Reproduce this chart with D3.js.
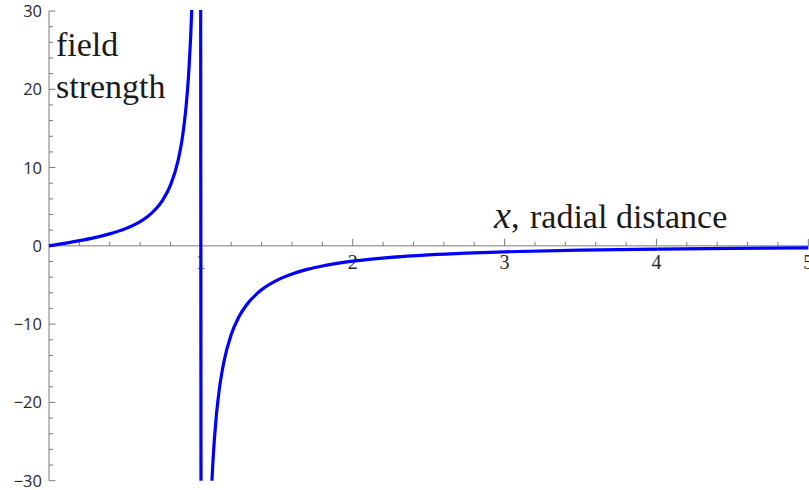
<!DOCTYPE html>
<html>
<head>
<meta charset="utf-8">
<script src="https://cdn.jsdelivr.net/npm/d3@7"></script>
<style>
  html, body { margin: 0; padding: 0; background: #fff; }
  svg { display: block; }
</style>
</head>
<body>
<svg id="chart" width="809" height="490"></svg>
<script>
// Radial distance samples and the field strength read at each one
const radialDistance = [0, 0.1, 0.2, 0.3, 0.4, 0.5, 0.6, 0.65, 0.7, 0.75, 0.8, 0.85, 0.88, 0.9, 0.92, 0.94, 0.96, 0.98, 0.99,
  1.01, 1.02, 1.03, 1.04, 1.05, 1.06, 1.07, 1.08, 1.1, 1.12, 1.15, 1.2, 1.25, 1.3, 1.4, 1.5, 1.6, 1.7, 1.8,
  2, 2.25, 2.5, 2.75, 3, 3.5, 4, 4.5, 5];
const fieldStrength = [0, 0.32, 0.66, 1.05, 1.53, 2.17, 3.10, 3.76, 4.64, 5.88, 7.75, 10.9, 14.07, 17.27, 22.09, 30.2, 46.5, 95.9, 195,
  -205, -103.9, -70.1, -53.1, -42.9, -36.0, -31.1, -27.36, -22.1, -18.56, -14.97, -11.32, -9.08, -7.55, -5.61, -4.41, -3.60, -3.01, -2.57,
  -1.96, -1.47, -1.15, -0.925, -0.763, -0.547, -0.412, -0.322, -0.259];

// Axis ticks
const xMajorTicks = [1, 2, 3, 4, 5];
const xMinorTicks = [0.2, 0.4, 0.6, 0.8, 1.2, 1.4, 1.6, 1.8, 2.2, 2.4, 2.6, 2.8, 3.2, 3.4, 3.6, 3.8, 4.2, 4.4, 4.6, 4.8];
const yMajorTicks = [-30, -20, -10, 0, 10, 20, 30];
const yMinorTicks = [-28, -26, -24, -22, -18, -16, -14, -12, -8, -6, -4, -2, 2, 4, 6, 8, 12, 14, 16, 18, 22, 24, 26, 28];

// Axis captions
const yCaptionLines = ["field", "strength"];
const xCaptionVar = "x";
const xCaptionText = "radial distance";

const svg = d3.select("#chart");
const W = 809, H = 490;

const x = d3.scaleLinear().domain([0, 5]).range([49, 808.3]);
const y = d3.scaleLinear().domain([-30, 30]).range([480.7, 11]);

const axisColor = "#7a7a7a";
const labelColor = "#2a2a2a";
const serif = "'Liberation Serif', 'Times New Roman', serif";
const sans = "'Open Sans', 'Noto Sans', sans-serif";

svg.append("rect").attr("width", W).attr("height", H).attr("fill", "#fff");

// Horizontal axis through y = 0, ticks pointing up
const xAxisG = svg.append("g").attr("transform", `translate(0,${y(0)})`);
xAxisG.append("line")
  .attr("x1", x(0)).attr("x2", W)
  .attr("stroke", axisColor).attr("stroke-width", 1);
xAxisG.selectAll("line.minor").data(xMinorTicks).join("line")
  .attr("class", "minor")
  .attr("x1", d => x(d)).attr("x2", d => x(d))
  .attr("y1", 0).attr("y2", -4)
  .attr("stroke", axisColor);
xAxisG.selectAll("line.major").data(xMajorTicks).join("line")
  .attr("class", "major")
  .attr("x1", d => x(d)).attr("x2", d => x(d))
  .attr("y1", 0).attr("y2", -7)
  .attr("stroke", axisColor);
xAxisG.selectAll("text").data(xMajorTicks).join("text")
  .attr("x", d => x(d)).attr("y", 23.5)
  .attr("text-anchor", "middle")
  .attr("font-family", serif).attr("font-size", 20)
  .attr("fill", labelColor)
  .text(d => d);

// Vertical axis at x = 0, ticks pointing right
const yAxisG = svg.append("g").attr("transform", `translate(${x(0)},0)`);
yAxisG.append("line")
  .attr("y1", y(30)).attr("y2", y(-30))
  .attr("stroke", axisColor).attr("stroke-width", 1);
yAxisG.selectAll("line.minor").data(yMinorTicks).join("line")
  .attr("class", "minor")
  .attr("y1", d => y(d)).attr("y2", d => y(d))
  .attr("x1", 0).attr("x2", 4)
  .attr("stroke", axisColor);
yAxisG.selectAll("line.major").data(yMajorTicks).join("line")
  .attr("class", "major")
  .attr("y1", d => y(d)).attr("y2", d => y(d))
  .attr("x1", 0).attr("x2", 6.5)
  .attr("stroke", axisColor);
yAxisG.selectAll("text").data(yMajorTicks).join("text")
  .attr("x", -7).attr("y", d => y(d))
  .attr("dy", "0.36em")
  .attr("text-anchor", "end")
  .attr("font-family", sans).attr("font-size", 16.5)
  .attr("fill", labelColor)
  .text(d => d < 0 ? "\u2212" + Math.abs(d) : String(d));

// Field strength curve, clipped to the plot range
svg.append("clipPath").attr("id", "plotClip")
  .append("rect")
  .attr("x", x(0) - 2).attr("y", y(30) - 1)
  .attr("width", W - x(0) + 2).attr("height", y(-30) - y(30) + 1);

const points = radialDistance.map((r, i) => [r, fieldStrength[i]]);
const line = d3.line()
  .x(d => x(d[0]))
  .y(d => y(d[1]))
  .curve(d3.curveMonotoneX);

svg.append("path")
  .datum(points)
  .attr("clip-path", "url(#plotClip)")
  .attr("fill", "none")
  .attr("stroke", "#0000ff")
  .attr("stroke-width", 3.2)
  .attr("stroke-linejoin", "round")
  .attr("d", line);

// Axis captions
svg.append("text")
  .attr("font-family", serif).attr("font-size", 34).attr("fill", "#1a1a1a")
  .selectAll("tspan").data(yCaptionLines).join("tspan")
  .attr("x", 56)
  .attr("y", (d, i) => 56 + i * 42)
  .text(d => d);

const xCap = svg.append("text")
  .attr("x", 494).attr("y", 227.5)
  .attr("font-family", serif).attr("fill", "#1a1a1a");
xCap.append("tspan").attr("font-style", "italic").attr("font-size", 38).text(xCaptionVar);
xCap.append("tspan").attr("font-size", 34).text(",");
xCap.append("tspan").attr("x", 530).attr("font-size", 34).text(xCaptionText);
</script>
</body>
</html>
